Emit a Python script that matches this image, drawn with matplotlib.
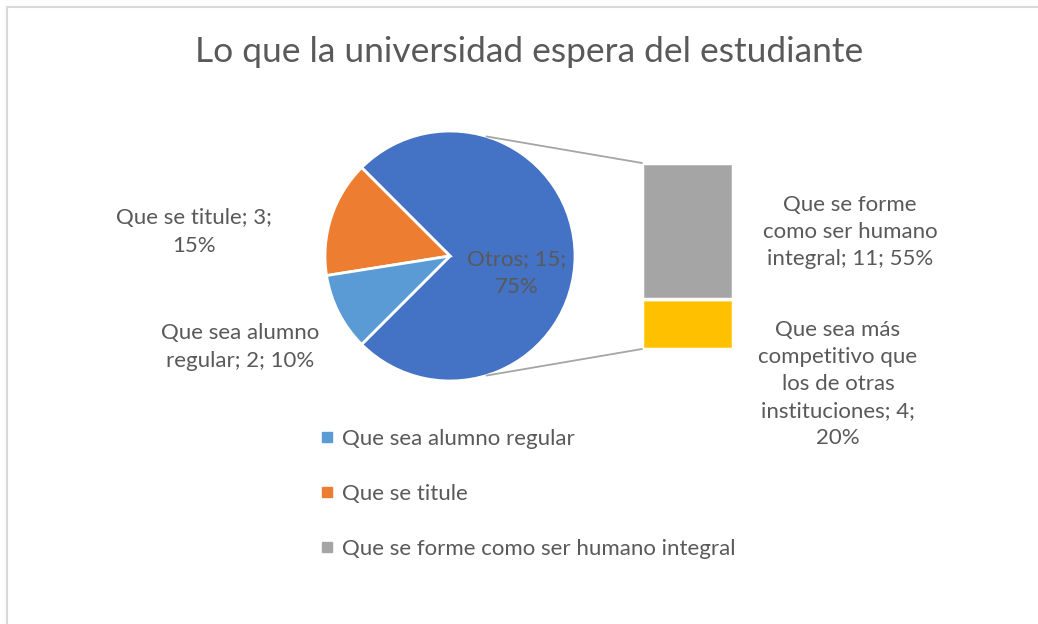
import matplotlib.pyplot as plt
from matplotlib.patches import ConnectionPatch
from matplotlib.lines import Line2D
import numpy as np

plt.rcParams['font.family'] = ['Lato', 'DejaVu Sans']

titulo = 'Lo que la universidad espera del estudiante'

# pastel principal (Otros = suma de la barra)
pie_nombres = ['Otros', 'Que se titule', 'Que sea alumno regular']
pie_valores = [15, 3, 2]
pie_colores = ['#4472C4', '#ED7D31', '#5B9BD5']
pie_textos = ['Otros; 15;\n75%', 'Que se titule; 3;\n15%', 'Que sea alumno\nregular; 2; 10%']

# barra secundaria
barra_nombres = ['Que se forme como ser humano integral',
                 'Que sea más competitivo que los de otras instituciones']
barra_valores = [11, 4]
barra_colores = ['#A5A5A5', '#FFC000']
barra_textos = ['Que se forme\ncomo ser humano\nintegral; 11; 55%',
                'Que sea más\ncompetitivo que\nlos de otras\ninstituciones; 4;\n20%']

W, H = 1038, 624
gris = '#595959'
fs = 16
ls = 1.45

fig = plt.figure(figsize=(W / 100, H / 100), dpi=100)
ax = fig.add_axes([0, 0, 1, 1])

def yy(y):
    # convierte y de pixel (desde arriba) a coordenada del eje
    return H - y

# Dibuja el pastel
cx, cy, r = 450, yy(256), 125
wedges, _ = ax.pie(pie_valores, colors=pie_colores, startangle=-135, counterclock=True,
                   center=(cx, cy), radius=r,
                   wedgeprops=dict(edgecolor='white', linewidth=2))
ax.set_xlim(0, W)
ax.set_ylim(0, H)
ax.set_aspect('equal')
ax.axis('off')

# Etiquetas del pastel
ax.text(517, yy(273), pie_textos[0], ha='center', va='center', fontsize=fs,
        color=gris, linespacing=ls)
ax.text(194, yy(232), pie_textos[1], ha='center', va='center', fontsize=fs,
        color=gris, linespacing=ls)
ax.text(240, yy(347), pie_textos[2], ha='center', va='center', fontsize=fs,
        color=gris, linespacing=ls)

# Barra apilada
ax2 = fig.add_axes([642 / W, yy(349) / H, 91 / W, 186 / H])
base = 0
for v, c in zip(barra_valores[::-1], barra_colores[::-1]):
    ax2.bar(0, v, bottom=base, width=1, color=c, edgecolor='white', linewidth=2.5)
    base += v
ax2.set_xlim(-0.5, 0.5)
ax2.set_ylim(0, sum(barra_valores))
ax2.axis('off')

ax.text(850, yy(232), barra_textos[0], ha='center', va='center', fontsize=fs,
        color=gris, linespacing=ls)
ax.text(838, yy(384), barra_textos[1], ha='center', va='center', fontsize=fs,
        color=gris, linespacing=ls)

# Lineas de conexion
ang = np.deg2rad(73)
for signo, esquina in [(1, (0, 1)), (-1, (0, 0))]:
    p = (cx + r * np.cos(ang), cy + signo * r * np.sin(ang))
    con = ConnectionPatch(xyA=p, coordsA=ax.transData, xyB=esquina, coordsB=ax2.transAxes,
                          color='#A5A5A5', linewidth=1.3)
    fig.add_artist(con)

# Leyenda (Excel deja fuera el ultimo punto)
handles = [Line2D([], [], marker='s', ls='', color=pie_colores[2], markersize=7),
           Line2D([], [], marker='s', ls='', color=pie_colores[1], markersize=7),
           Line2D([], [], marker='s', ls='', color=barra_colores[0], markersize=7)]
etiquetas = [pie_nombres[2], pie_nombres[1], barra_nombres[0]]
ax.legend(handles, etiquetas, loc='upper left', bbox_to_anchor=(300 / W, yy(409) / H),
          frameon=False, fontsize=fs, labelcolor=gris, labelspacing=1.57,
          handlelength=0.6, handletextpad=0.4)

ax.text(529, yy(52), titulo, ha='center', va='center', fontsize=25.5, color=gris)

# Borde (solo se ve arriba y a la izquierda)
ax.plot([7, 7, W], [0, yy(6.5), yy(6.5)], color='#D9D9D9', linewidth=1.5,
        solid_joinstyle='miter', clip_on=False)

fig.savefig('out.png', dpi=100)
